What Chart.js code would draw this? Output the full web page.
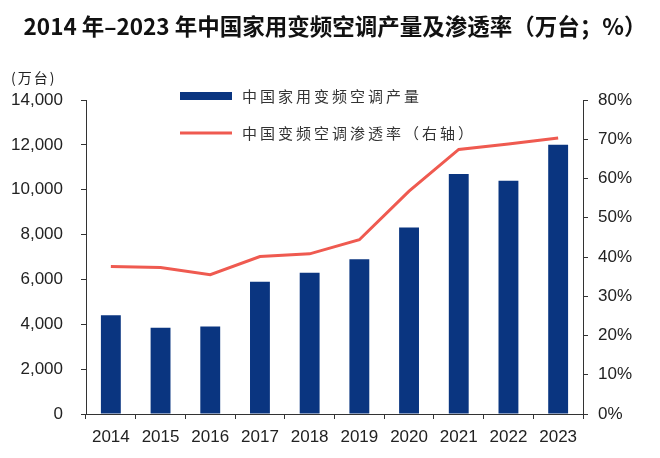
<!DOCTYPE html>
<html>
<head>
<meta charset="utf-8">
<script src="https://cdn.jsdelivr.net/npm/chart.js@4.4.1/dist/chart.umd.min.js"></script>
<style>
html,body{margin:0;padding:0;background:#fff;}
#wrap{width:660px;height:458px;position:relative;}
</style>
</head>
<body>
<div id="wrap"><canvas id="c" width="660" height="458"></canvas></div>
<script>
const titleText = '2014 年–2023 年中国家用变频空调产量及渗透率（万台；%）';
const unitLabel = '(万台)';
const categories = ['2014','2015','2016','2017','2018','2019','2020','2021','2022','2023'];
const productionName = '中国家用变频空调产量';
const production = [4400, 3850, 3900, 5900, 6300, 6900, 8320, 10700, 10400, 12000];
const penetrationName = '中国变频空调渗透率（右轴）';
const penetration = [37.6, 37.3, 35.5, 40.1, 40.8, 44.4, 56.8, 67.4, 68.8, 70.3];

const barColor = '#0a3580';
const lineColor = '#ef5a50';
const cjk = '"Noto Sans CJK SC", "Noto Sans", sans-serif';
const latin = '"Liberation Sans", Arial, sans-serif';
const narrow = '"Liberation Sans Narrow", "Liberation Sans", Arial, sans-serif';

const overlay = {
  id: 'overlay',
  afterDraw(chart) {
    const ctx = chart.ctx;
    ctx.save();
    // title
    ctx.fillStyle = '#111';
    ctx.font = 'bold 22.5px ' + cjk;
    ctx.textAlign = 'center';
    ctx.textBaseline = 'middle';
    ctx.fillText(titleText, 335, 26);
    // unit label
    ctx.font = '14px ' + cjk;
    ctx.fillStyle = '#222';
    ctx.textAlign = 'left';
    try { ctx.letterSpacing = '2px'; } catch (e) {}
    ctx.fillText(unitLabel, 11, 78);
    // legend
    const bar = chart.data.datasets.find(d => d.type === 'bar');
    const line = chart.data.datasets.find(d => d.type === 'line');
    ctx.fillStyle = bar.backgroundColor;
    ctx.fillRect(180, 92, 52, 8);
    ctx.strokeStyle = line.borderColor;
    ctx.lineWidth = 3;
    ctx.beginPath();
    ctx.moveTo(180, 133);
    ctx.lineTo(232, 133);
    ctx.stroke();
    ctx.fillStyle = '#333';
    ctx.font = '15px ' + cjk;
    try { ctx.letterSpacing = '3px'; } catch (e) {}
    ctx.fillText(bar.label, 242, 96);
    ctx.fillText(line.label, 242, 133);
    ctx.restore();
  }
};

new Chart(document.getElementById('c'), {
  data: {
    labels: categories,
    datasets: [
      {
        type: 'line',
        label: penetrationName,
        data: penetration,
        yAxisID: 'y1',
        borderColor: lineColor,
        backgroundColor: lineColor,
        borderWidth: 3,
        pointRadius: 0,
        tension: 0,
        order: 0
      },
      {
        type: 'bar',
        label: productionName,
        data: production,
        yAxisID: 'y',
        backgroundColor: barColor,
        barPercentage: 0.4,
        categoryPercentage: 1.0,
        order: 1
      }
    ]
  },
  options: {
    responsive: false,
    animation: false,
    devicePixelRatio: 1,
    layout: { padding: { top: 100, left: 0, right: 0, bottom: 0 } },
    plugins: {
      legend: { display: false },
      title: { display: false },
      tooltip: { enabled: false }
    },
    scales: {
      x: {
        offset: true,
        grid: { display: true, drawOnChartArea: false, drawTicks: true, tickLength: 5, color: '#333', offset: true },
        border: { display: true, color: '#333', width: 1 },
        ticks: { color: '#222', font: { family: narrow, size: 17 }, padding: 8, maxRotation: 0 },
        afterFit(s) { s.height = 44; }
      },
      y: {
        position: 'left',
        min: 0, max: 14000,
        ticks: {
          stepSize: 2000,
          color: '#222',
          font: { family: latin, size: 17 },
          padding: 18,
          callback: v => v.toLocaleString('en-US')
        },
        grid: { display: true, drawOnChartArea: false, drawTicks: true, tickLength: 5, color: '#333' },
        border: { display: true, color: '#333', width: 1 },
        afterFit(s) { s.width = 86; }
      },
      y1: {
        position: 'right',
        min: 0, max: 80,
        ticks: {
          stepSize: 10,
          color: '#222',
          font: { family: latin, size: 17 },
          padding: 10,
          callback: v => v + '%'
        },
        grid: { display: true, drawOnChartArea: false, drawTicks: true, tickLength: 5, color: '#333' },
        border: { display: true, color: '#333', width: 1 },
        afterFit(s) { s.width = 77; }
      }
    }
  },
  plugins: [overlay]
});
</script>
</body>
</html>
